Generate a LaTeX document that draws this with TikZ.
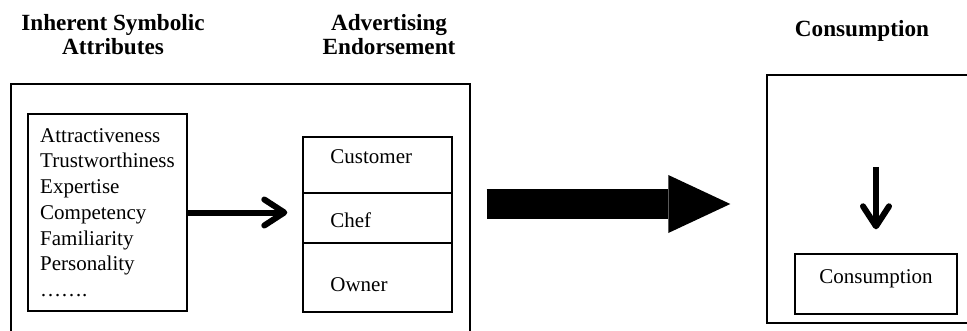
\documentclass[tikz,border=0pt]{standalone}
\usepackage{fontspec}
\setmainfont{Liberation Serif}
\usetikzlibrary{arrows.meta}

\begin{document}
\begin{tikzpicture}[
    x=0.5pt, y=-0.5pt,
    box/.style={rectangle, draw, line width=0.7pt, inner sep=0pt},
    heading/.style={font=\fontsize{11.6}{12.2}\selectfont\bfseries,
                    align=center, anchor=base, inner sep=0pt},
    txt/.style={font=\fontsize{10.5}{12.85}\selectfont, inner sep=0pt},
    arrow/.style={line width=3pt, -{Straight Barb[length=10pt, width=13pt, round]}},
    fat/.style={line width=15pt, -{Triangle[length=31pt, width=29pt, line width=0pt]}}
]
\useasboundingbox (0,0) rectangle (967,331);
\clip (0,0) rectangle (967,331);
% column headings (base = last line)
\node[heading] (H1) at (113,55) {Inherent Symbolic\\Attributes};
\node[heading] (H2) at (389,55) {Advertising\\Endorsement};
\node[heading] (H3) at (862,36.7) {Consumption};
% outer frames (run off the page)
\node[box, minimum width=229.5pt, minimum height=138pt] (LB) at (240.5,222) {};
\node[box, minimum width=116.5pt, minimum height=124pt] (CB) at (883.5,199) {};
% attributes
\node[box, txt, align=left, minimum width=79.5pt, minimum height=98.5pt] (ATT) at (107.5,212.5)
    {Attractiveness\\Trustworthiness\\Expertise\\Competency\\Familiarity\\Personality\\…….};
% endorsers
\node[box, minimum width=74.5pt, minimum height=87.5pt] (END) at (377.5,224.5) {};
\draw[line width=0.7pt] (END.west |- 0,193) -- (END.east |- 0,193);
\draw[line width=0.7pt] (END.west |- 0,243) -- (END.east |- 0,243);
\node[txt, anchor=base west] (CUS) at (330,163.3) {Customer};
\node[txt, anchor=base west] (CHF) at (330,227.3) {Chef};
\node[txt, anchor=base west] (OWN) at (330,291.7) {Owner};
% consumption
\node[box, minimum width=81pt, minimum height=30pt] (CI) at (876,284) {};
\node[txt, anchor=base] (CON) at (876,283.3) {Consumption};
% arrows
\draw[arrow, shorten >=7.5pt] (ATT.east) -- (ATT.east -| END.west);
\coordinate (M) at (0,204);
\draw[fat, shorten <=8pt, shorten >=18pt] (LB.east |- M) -- (CB.west |- M);
\coordinate (D) at (876,167);
\draw[arrow, shorten >=12pt] (D) -- (CI.north);
\end{tikzpicture}
\end{document}
